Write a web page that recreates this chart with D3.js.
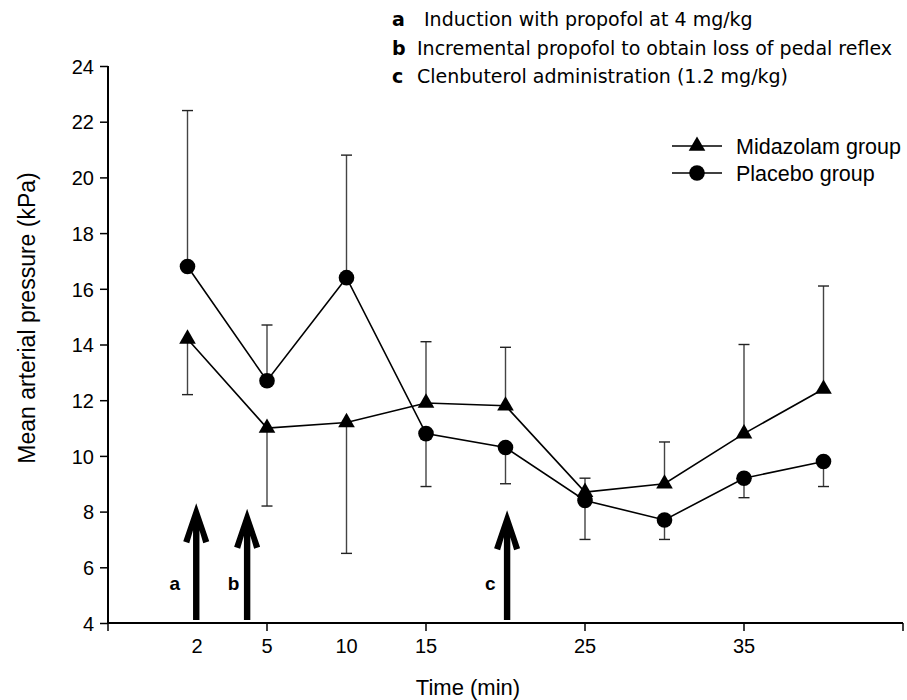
<!DOCTYPE html>
<html>
<head>
<meta charset="utf-8">
<script src="https://cdn.jsdelivr.net/npm/d3@7"></script>
<style>
body { margin: 0; background: #fff; }
svg { display: block; font-family: "Liberation Sans", Arial, sans-serif; }
.note { font-family: "DejaVu Sans", Verdana, sans-serif; font-size: 19px; }
</style>
</head>
<body>
<svg width="907" height="700"></svg>
<script>
// data
const times = [2, 5, 10, 15, 20, 25, 30, 35, 40]
const midazolam = [14.2, 11.0, 11.2, 11.9, 11.8, 8.7, 9.0, 10.8, 12.4]
const midazolamErr = [12.2, 8.2, 6.5, 14.1, 13.9, 9.2, 10.5, 14.0, 16.1]
const placebo = [16.8, 12.7, 16.4, 10.8, 10.3, 8.4, 7.7, 9.2, 9.8]
const placeboErr = [22.4, 14.7, 20.8, 8.9, 9.0, 7.0, 7.0, 8.5, 8.9]

const tickLabels = ["2", "5", "10", "15", "25", "35"]
const tickLabelPos = [1.12, 2, 3, 4, 6, 8]
const tickMarks = [0, 2, 4, 6, 8, 10]

const events = ["a", "b", "c"]
const eventPos = [1.11, 1.75, 5.02]
const eventTop = [8.3, 8.1, 8.05]
const eventLetterPos = [0.84, 1.58, 4.81]
const eventNotes = ["Induction with propofol at 4 mg/kg",
	"Incremental propofol to obtain loss of pedal reflex",
	"Clenbuterol administration (1.2 mg/kg)"]

const seriesNames = ["Midazolam group", "Placebo group"]

const svg = d3.select("svg")

//scales
const x = d3.scaleLinear()
	.domain([0, 10])
	.range([108, 903])

const y = d3.scaleLinear()
	.domain([4, 24])
	.range([623, 66])

//y axis
const yAxis = svg.append("g")
	.attr("transform", "translate(108,0)")
	.call(d3.axisLeft(y).tickValues(d3.range(4, 25, 2)).tickSize(8).tickPadding(6))
yAxis.select(".domain").attr("stroke-width", 2).attr("d", `M0,${y(24)}V${y(4)}`)
yAxis.selectAll(".tick line").attr("stroke-width", 1.5)
yAxis.attr("font-size", null).attr("font-family", null)
yAxis.selectAll("text").style("font-size", "20px").attr("dy", "0.36em")

//x axis, drawn by hand since ticks and labels don't line up
svg.append("line")
	.attr("x1", x(0)).attr("x2", x(10))
	.attr("y1", y(4)).attr("y2", y(4))
	.attr("stroke", "#000").attr("stroke-width", 2)

svg.selectAll("line.xtick")
	.data(tickMarks)
	.enter()
	.append("line")
	.attr("class", "xtick")
	.attr("x1", d => x(d)).attr("x2", d => x(d))
	.attr("y1", y(4)).attr("y2", y(4) + 8)
	.attr("stroke", "#000").attr("stroke-width", 1.5)

svg.selectAll("text.xlab")
	.data(tickLabels)
	.enter()
	.append("text")
	.attr("class", "xlab")
	.attr("x", (d, i) => x(tickLabelPos[i]))
	.attr("y", 653)
	.attr("text-anchor", "middle")
	.style("font-size", "20px")
	.text(d => d)

//axis titles
svg.append("text")
	.attr("x", 468)
	.attr("y", 695)
	.attr("text-anchor", "middle")
	.style("font-size", "22px")
	.text("Time (min)")

svg.append("text")
	.attr("transform", "translate(35,318) rotate(-90)")
	.attr("text-anchor", "middle")
	.style("font-size", "23px")
	.text("Mean arterial pressure (kPa)")

//event arrows
const arrowShape = "M0,0 L13,38 L7,40 L3.2,27 L3.2,{b} L-3.2,{b} L-3.2,27 L-7,40 L-13,38 Z"

events.forEach((e, i) => {
	const len = y(4) - 3 - y(eventTop[i])
	svg.append("path")
		.attr("transform", `translate(${x(eventPos[i])},${y(eventTop[i])})`)
		.attr("d", arrowShape.replace(/\{b\}/g, len))
		.attr("fill", "#000")
	svg.append("text")
		.attr("x", x(eventLetterPos[i]))
		.attr("y", 590)
		.attr("text-anchor", "middle")
		.style("font-size", "19px")
		.style("font-weight", "bold")
		.text(e)
})

//error bars
function errorBars(vals, errs, cls) {
	const g = svg.append("g").attr("class", cls)
	vals.forEach((v, i) => {
		const cx = x(i + 1)
		g.append("line")
			.attr("x1", cx).attr("x2", cx)
			.attr("y1", y(v)).attr("y2", y(errs[i]))
			.attr("stroke", "#444").attr("stroke-width", 1.4)
		g.append("line")
			.attr("x1", cx - 5.5).attr("x2", cx + 5.5)
			.attr("y1", y(errs[i])).attr("y2", y(errs[i]))
			.attr("stroke", "#222").attr("stroke-width", 1.4)
	})
}
errorBars(midazolam, midazolamErr, "errM")
errorBars(placebo, placeboErr, "errP")

//lines
const line = d3.line()
	.x((d, i) => x(i + 1))
	.y(d => y(d))

svg.append("path")
	.datum(midazolam)
	.attr("d", line)
	.attr("fill", "none")
	.attr("stroke", "#000")
	.attr("stroke-width", 1.6)

svg.append("path")
	.datum(placebo)
	.attr("d", line)
	.attr("fill", "none")
	.attr("stroke", "#000")
	.attr("stroke-width", 1.6)

//markers
const tri = d3.symbol().type(d3.symbolTriangle).size(120)

svg.selectAll("path.tri")
	.data(midazolam)
	.enter()
	.append("path")
	.attr("class", "tri")
	.attr("d", tri)
	.attr("transform", (d, i) => `translate(${x(i + 1)},${y(d)})`)
	.attr("fill", "#000")

svg.selectAll("circle.dot")
	.data(placebo)
	.enter()
	.append("circle")
	.attr("class", "dot")
	.attr("cx", (d, i) => x(i + 1))
	.attr("cy", d => y(d))
	.attr("r", 7.8)
	.attr("fill", "#000")

//legend
const legend = svg.append("g").attr("transform", "translate(672,146)")
seriesNames.forEach((s, i) => {
	const ly = i * 27
	legend.append("line")
		.attr("x1", 0).attr("x2", 50)
		.attr("y1", ly).attr("y2", ly)
		.attr("stroke", "#000").attr("stroke-width", 1.6)
	if (i == 0) {
		legend.append("path")
			.attr("d", tri)
			.attr("transform", `translate(25,${ly})`)
	} else {
		legend.append("circle")
			.attr("cx", 25).attr("cy", ly).attr("r", 7.8)
	}
	legend.append("text")
		.attr("x", 64)
		.attr("y", ly + 7.5)
		.style("font-size", "21.5px")
		.text(s)
})

//notes at top
events.forEach((e, i) => {
	const ny = 26 + i * 28.5
	svg.append("text")
		.attr("class", "note")
		.attr("x", 392)
		.attr("y", ny)
		.style("font-weight", "bold")
		.text(e)
	svg.append("text")
		.attr("class", "note")
		.attr("x", i == 0 ? 424 : 417)
		.attr("y", ny)
		.text(eventNotes[i])
})
</script>
</body>
</html>
